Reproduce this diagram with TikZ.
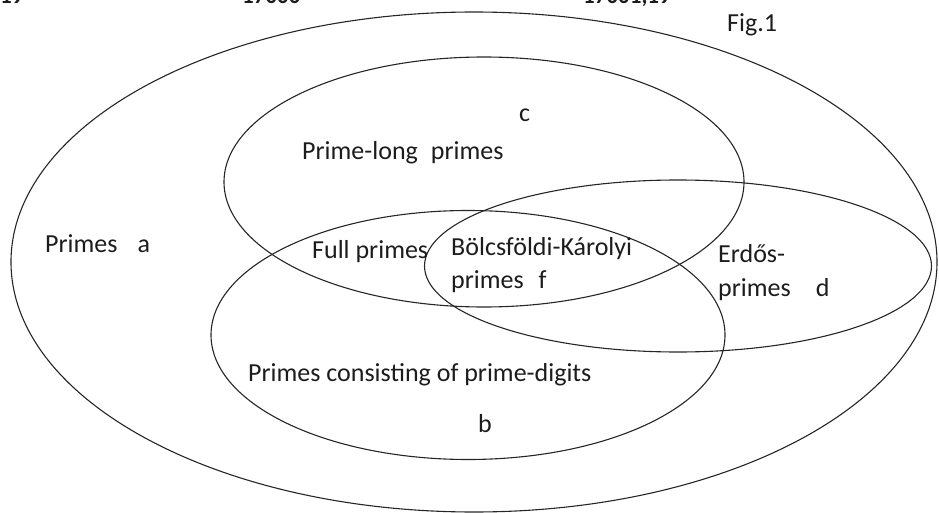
\documentclass[tikz,border=0pt]{standalone}
\usepackage{fontspec}
\setmainfont{Carlito}
\usepackage{xcolor}
\usepackage{tikz}
\usetikzlibrary{positioning, shapes.geometric}
\definecolor{vnInk}{HTML}{1C1C1C}
\definecolor{vnLine}{HTML}{262626}
\tikzset{
  setring/.style ={ellipse, draw=vnLine, line width=1.1pt, inner sep=0pt},
  lbl/.style     ={font=\fontsize{26}{32}\selectfont, text=vnInk, inner sep=0pt, anchor=base west},
  cut/.style     ={font=\fontsize{23}{28}\selectfont\bfseries, text=vnInk, inner sep=0pt, anchor=base west},
}

\begin{document}
\begin{tikzpicture}[x=1pt, y=-1pt]
\useasboundingbox (0,0) rectangle (939,513);

% ---- page header, cut off at the top ----
\node[cut] (hd1) at (0,3.5)   {19};
\node[cut] (hd2) at (242,3.5) {17000};
\node[cut] (hd3) at (583,3.5) {17001,19};

% ---- the sets ----
\node[setring, minimum width=926, minimum height=500] (setA) at (474,262) {};
\node[setring, minimum width=520, minimum height=250] (setC) at (484,182) {};
\node[setring, minimum width=514, minimum height=249] (setB) at (468,335) {};
\node[setring, minimum width=507, minimum height=172] (setD) at (678,266) {};

% ---- labels ----
\node[lbl] (fig)  at (727,32)  {Fig.1};
\node[lbl] (labA) at (45,252)  {Primes\hspace{20pt}a};
\node[lbl] (labC) at (519,122) {c};
\node[lbl] (pl)   at (302,160) {Prime-long\hspace{13pt}primes};
\node[lbl] (full) at (312,258) {Full primes};
\node[lbl] (bk1)  at (451,255) {Bölcsföldi-Károlyi};
\node[lbl] (bk2)  at (451,288) {primes\hspace{15pt}f};
\node[lbl] (er1)  at (718,262) {Erdős-};
\node[lbl] (er2)  at (718,296) {primes\hspace{25pt}d};
\node[lbl] (pd)   at (248,381) {Primes consisting of prime-digits};
\node[lbl] (labB) at (478,432) {b};
\end{tikzpicture}
\end{document}
